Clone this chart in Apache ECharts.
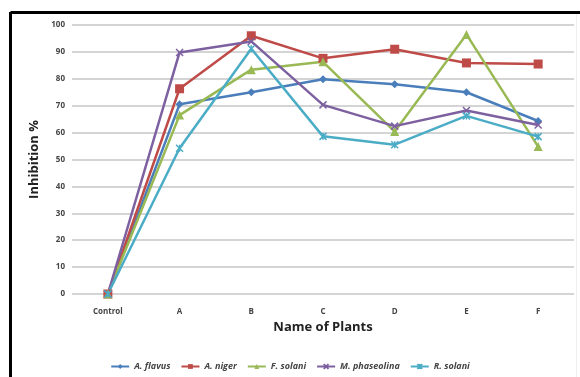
<!DOCTYPE html>
<html><head><meta charset="utf-8">
<script src="https://cdn.jsdelivr.net/npm/echarts@6/dist/echarts.min.js"></script>
<style>html,body{margin:0;padding:0;background:#fff}#c{width:580px;height:377px}</style>
</head><body><div id="c"></div>
<script>
const categories = ['Control','A','B','C','D','E','F'];
const yTicks = [0,10,20,30,40,50,60,70,80,90,100];
const seriesNames = ['A. flavus','A. niger','F. solani','M. phaseolina','R. solani'];
const aFlavus = [0, 70.5, 75, 79.8, 78, 75, 64.3];
const aNiger = [0, 76.3, 96, 87.6, 91, 85.9, 85.5];
const fSolani = [0, 66.5, 83.4, 86.3, 60.4, 96.5, 54.8];
const mPhaseolina = [0, 89.8, 93.9, 70.3, 62.4, 68.2, 62.8];
const rSolani = [0, 54.2, 91.2, 58.6, 55.5, 66.2, 58.5];

const colors = ['#4A7EBB','#BE4B48','#98B954','#7D60A0','#4BACC6'];
const symbols = ['diamond','rect','triangle','path://M0,0L10,10M10,0L0,10','path://M0,0L10,10M10,0L0,10M5,0L5,10'];
const symbolSizes = [8,9,9,7,7];
const dataArr = [aFlavus, aNiger, fSolani, mPhaseolina, rSolani];

const chart = echarts.init(document.getElementById('c'), null, {renderer:'canvas'});
chart.setOption({
  animation:false,
  backgroundColor:'#fff',
  graphic:[
    {type:'line', shape:{x1:10.5,y1:12.5,x2:580,y2:12.5}, style:{stroke:'#000',lineWidth:3}},
    {type:'line', shape:{x1:10.5,y1:12,x2:10.5,y2:377}, style:{stroke:'#000',lineWidth:3}},
    {type:'line', shape:{x1:576.5,y1:14,x2:576.5,y2:377}, style:{stroke:'#eeeeee',lineWidth:1}}
  ],
  grid:{left:72, right:6, top:25, bottom:83, containLabel:false},
  legend:{
    data:seriesNames, bottom:1, left:'center', itemWidth:18, itemHeight:6, itemGap:10,
    textStyle:{fontFamily:'Open Sans', fontSize:9, fontStyle:'italic', fontWeight:'bold', color:'#444'}
  },
  xAxis:{
    type:'category', data:categories, boundaryGap:true,
    name:'Name of Plants', nameLocation:'middle', nameGap:27,
    nameTextStyle:{fontFamily:'Open Sans', fontSize:13, fontWeight:'bold', color:'#222'},
    axisLine:{show:false}, axisTick:{show:false},
    axisLabel:{fontFamily:'Open Sans', fontSize:8, fontWeight:'bold', color:'#444', margin:14}
  },
  yAxis:{
    type:'value', min:0, max:100, interval:10,
    name:'Inhibition %', nameLocation:'middle', nameGap:30,
    nameTextStyle:{fontFamily:'Open Sans', fontSize:13, fontWeight:'bold', color:'#222'},
    axisLine:{show:false}, axisTick:{show:false},
    axisLabel:{fontFamily:'Open Sans', fontSize:8, fontWeight:'bold', color:'#444', margin:7,
      formatter:function(v){return yTicks.indexOf(v)>=0? String(v):'';}},
    splitLine:{lineStyle:{color:'#d4d4d4', width:2}}
  },
  series: seriesNames.map(function(n,i){return {
    name:n, type:'line', data:dataArr[i], color:colors[i],
    symbol:symbols[i], symbolSize:symbolSizes[i], showSymbol:true,
    lineStyle:{width:2.5, color:colors[i]},
    itemStyle:{color:colors[i], borderColor:colors[i], borderWidth: i>=3?1.5:0}
  };})
});
</script></body></html>
